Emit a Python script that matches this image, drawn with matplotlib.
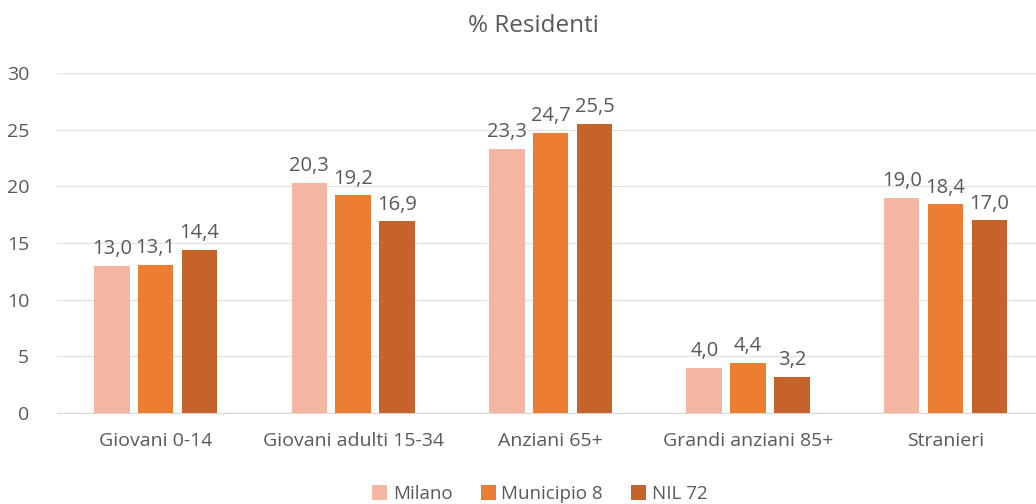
import matplotlib
matplotlib.use("Agg")
import matplotlib.pyplot as plt
import numpy as np

plt.rcParams['font.family'] = ['Open Sans', 'DejaVu Sans']

categories = ["Giovani 0-14", "Giovani adulti 15-34", "Anziani 65+", "Grandi anziani 85+", "Stranieri"]
milano = [13.0, 20.3, 23.3, 4.0, 19.0]
municipio = [13.1, 19.2, 24.7, 4.4, 18.4]
nil72 = [14.4, 16.9, 25.5, 3.2, 17.0]
series_names = ["Milano", "Municipio 8", "NIL 72"]
colors = ["#F4B6A0", "#ED7D31", "#C5632A"]
text_col = "#595959"

fig = plt.figure(figsize=(10.36, 5.04), dpi=100)
ax = fig.add_axes([0.055, 0.1806, 0.953, 0.6746])

x = np.arange(len(categories))
w = 0.18
off = 0.222
for i, (vals, name) in enumerate(zip([milano, municipio, nil72], series_names)):
    pos = x + (i - 1) * off
    ax.bar(pos, vals, width=w, color=colors[i], label=name, zorder=3)
    for p, v in zip(pos, vals):
        ax.text(p, v + 0.6, f"{v:.1f}".replace(".", ","), ha="center", va="bottom",
                fontsize=14.5, color=text_col)

ax.set_xlim(-0.5, 4.5)
ax.set_ylim(0, 30)
ax.set_yticks(range(0, 31, 5))
ax.set_xticks(x)
ax.set_xticklabels(categories)
ax.tick_params(axis="both", length=0, labelsize=14, colors=text_col)
ax.tick_params(axis="y", pad=20)
ax.tick_params(axis="x", pad=14)
ax.grid(axis="y", color="#E3E3E3", linewidth=1, zorder=0)
for s in ["top", "right", "left"]:
    ax.spines[s].set_visible(False)
ax.spines["bottom"].set_color("#D9D9D9")

fig.text(0.515, 0.948, "% Residenti", ha="center", va="center", fontsize=17.5, color=text_col)

leg = fig.legend(loc="center", bbox_to_anchor=(0.521, 0.02), ncol=3, frameon=False,
                 fontsize=13.5, handlelength=0.8, handleheight=0.8, columnspacing=1.5,
                 handletextpad=0.3)
for t in leg.get_texts():
    t.set_color(text_col)

fig.savefig("out.png", dpi=100)
